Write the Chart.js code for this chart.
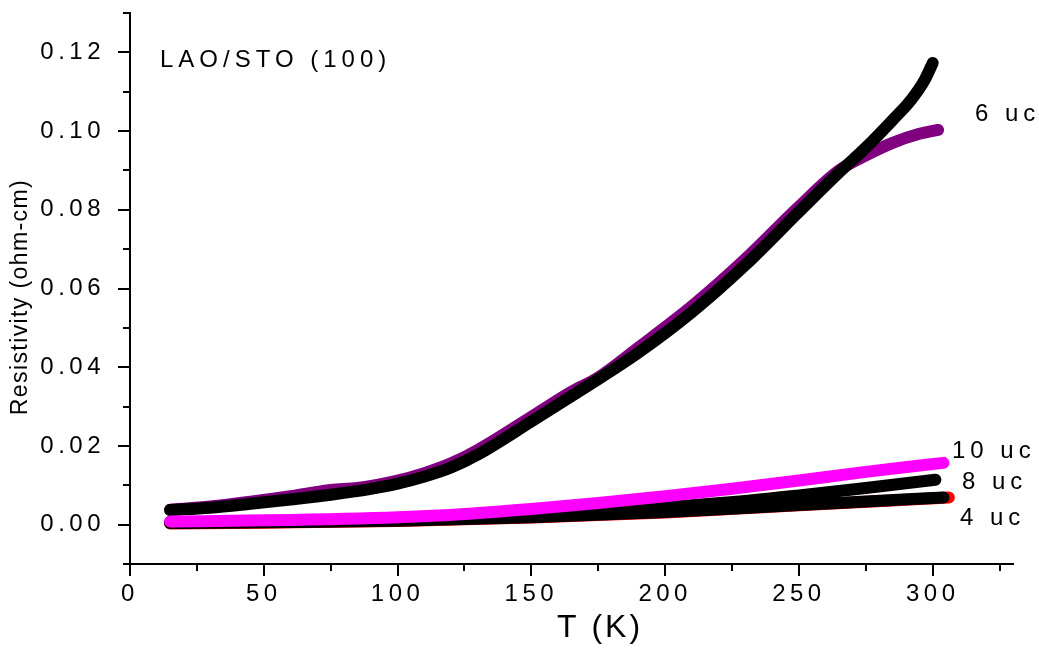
<!DOCTYPE html>
<html>
<head>
<meta charset="utf-8">
<script src="https://cdn.jsdelivr.net/npm/chart.js@4/dist/chart.umd.min.js"></script>
<style>
  html, body { margin: 0; padding: 0; background: #fff; }
  canvas { display: block; }
</style>
</head>
<body>
<canvas id="chart" width="1039" height="648"></canvas>
<script>
// Resistivity vs temperature, LAO/STO (100)
const temps6Black = [15, 30, 45, 60, 75, 90, 100, 110, 120, 130, 150, 170, 190, 210, 230, 250, 265, 275, 285, 292, 297, 300];
const rho6Black = [0.0037, 0.0043, 0.0053, 0.0064, 0.0076, 0.0091, 0.0104, 0.0122, 0.0145, 0.0178, 0.0262, 0.0348, 0.0437, 0.0540, 0.0660, 0.0795, 0.0895, 0.0958, 0.1028, 0.1080, 0.1130, 0.1173];

const temps6Purple = [15, 30, 45, 60, 75, 85, 100, 110, 120, 130, 150, 165, 175, 190, 210, 230, 250, 265, 275, 285, 295, 302];
const rho6Purple = [0.0038, 0.0046, 0.0058, 0.0072, 0.0088, 0.0093, 0.0112, 0.0131, 0.0156, 0.0190, 0.0274, 0.0338, 0.0374, 0.0450, 0.0555, 0.0675, 0.0808, 0.0900, 0.0938, 0.0970, 0.0993, 0.1003];

const temps10 = [15, 50, 100, 125, 150, 175, 200, 225, 250, 275, 304];
const rho10 = [0.0008, 0.0011, 0.0019, 0.0027, 0.0040, 0.0055, 0.0072, 0.0091, 0.0112, 0.0134, 0.0157];

const temps8 = [15, 50, 100, 150, 200, 231, 250, 275, 301];
const rho8 = [0.0005, 0.0007, 0.0012, 0.0025, 0.0045, 0.0061, 0.0074, 0.0093, 0.0114];

const temps4Black = [15, 50, 100, 150, 200, 231, 250, 275, 304];
const rho4Black = [0.0004, 0.0006, 0.0010, 0.0019, 0.0032, 0.0043, 0.0050, 0.0059, 0.0069];

const temps4Red = [15, 50, 100, 150, 200, 250, 306];
const rho4Red = [0.0003, 0.0005, 0.0009, 0.0018, 0.0031, 0.0049, 0.0069];

const xTickValues = [0, 50, 100, 150, 200, 250, 300];
const xMinorValues = [25, 75, 125, 175, 225, 275, 325];
const yTickValues = [0, 0.02, 0.04, 0.06, 0.08, 0.10, 0.12];
const yMinorValues = [-0.01, 0.01, 0.03, 0.05, 0.07, 0.09, 0.11, 0.13];

const seriesNames = ['6 uc', '6 uc (2)', '4 uc', '4 uc (2)', '8 uc', '10 uc'];

const FONT = "'Liberation Sans', Arial, sans-serif";

function pts(xs, ys) {
  return xs.map((x, i) => ({ x: x, y: ys[i] }));
}

function line(label, xs, ys, color, order) {
  return {
    label: label,
    data: pts(xs, ys),
    borderColor: color,
    backgroundColor: color,
    borderWidth: 12,
    borderCapStyle: 'round',
    borderJoinStyle: 'round',
    pointRadius: 0,
    cubicInterpolationMode: 'monotone',
    fill: false,
    order: order,
  };
}

// Minor ticks, axis titles and in-plot labels
const decorations = {
  id: 'decorations',
  beforeDraw(chart) {
    chart.ctx.letterSpacing = '4.5px';
  },
  afterDraw(chart) {
    const ctx = chart.ctx;
    const xs = chart.scales.x;
    const ys = chart.scales.y;
    const area = chart.chartArea;
    ctx.save();
    ctx.strokeStyle = '#000';
    ctx.lineWidth = 2;
    ctx.beginPath();
    for (const v of xMinorValues) {
      const px = Math.round(xs.getPixelForValue(v));
      ctx.moveTo(px, area.bottom);
      ctx.lineTo(px, area.bottom + 7);
    }
    for (const v of yMinorValues) {
      const py = Math.round(ys.getPixelForValue(v));
      ctx.moveTo(area.left, py);
      ctx.lineTo(area.left - 7, py);
    }
    ctx.stroke();

    ctx.fillStyle = '#000';
    ctx.textBaseline = 'middle';
    ctx.textAlign = 'left';
    ctx.font = '24px ' + FONT;
    ctx.letterSpacing = '5px';
    ctx.fillText('LAO/STO (100)', 160, 60);
    ctx.fillText('6 uc', 975, 114);
    ctx.fillText('10 uc', 952, 451);
    ctx.fillText('8 uc', 962, 482);
    ctx.fillText('4 uc', 960, 518);

    // x title
    ctx.font = '32px ' + FONT;
    ctx.letterSpacing = '3px';
    ctx.fillText('T (K)', 557, 628);

    // y title
    ctx.translate(21, 297);
    ctx.rotate(-Math.PI / 2);
    ctx.font = '23px ' + FONT;
    ctx.letterSpacing = '1.4px';
    ctx.textAlign = 'center';
    ctx.fillText('Resistivity (ohm-cm)', 0, 0);
    ctx.restore();
  },
};

const ctx = document.getElementById('chart').getContext('2d');
const chart = new Chart(ctx, {
  type: 'line',
  data: {
    datasets: [
      line(seriesNames[0], temps6Purple, rho6Purple, '#800080', 6),
      line(seriesNames[1], temps6Black, rho6Black, '#000000', 5),
      line(seriesNames[2], temps4Red, rho4Red, '#ff0000', 4),
      line(seriesNames[3], temps4Black, rho4Black, '#000000', 3),
      line(seriesNames[4], temps8, rho8, '#000000', 2),
      line(seriesNames[5], temps10, rho10, '#ff00ff', 1),
    ],
  },
  options: {
    responsive: false,
    devicePixelRatio: 1,
    animation: false,
    layout: { padding: { top: 13, right: 26, left: 0, bottom: 0 } },
    plugins: {
      legend: { display: false },
      tooltip: { enabled: false },
    },
    scales: {
      x: {
        type: 'linear',
        min: 0,
        max: 330,
        afterBuildTicks: (scale) => { scale.ticks = xTickValues.map(v => ({ value: v })); },
        afterFit: (scale) => { scale.height = 84; scale.paddingLeft = 0; scale.paddingRight = 0; },
        border: { display: true, color: '#000', width: 2 },
        grid: { display: true, drawOnChartArea: false, drawTicks: true, tickLength: 12, color: '#000', lineWidth: 2 },
        ticks: { color: '#000', font: { family: FONT, size: 24 }, padding: 4, maxRotation: 0, autoSkip: false },
      },
      y: {
        type: 'linear',
        min: -0.01,
        max: 0.13,
        afterBuildTicks: (scale) => { scale.ticks = yTickValues.map(v => ({ value: v })); },
        afterFit: (scale) => { scale.width = 130; scale.paddingTop = 0; scale.paddingBottom = 0; },
        border: { display: true, color: '#000', width: 2 },
        grid: { display: true, drawOnChartArea: false, drawTicks: true, tickLength: 12, color: '#000', lineWidth: 2 },
        ticks: {
          color: '#000',
          font: { family: FONT, size: 24 },
          padding: 13,
          autoSkip: false,
          callback: (v) => Number(v).toFixed(2),
        },
      },
    },
  },
  plugins: [decorations],
});
</script>
</body>
</html>
